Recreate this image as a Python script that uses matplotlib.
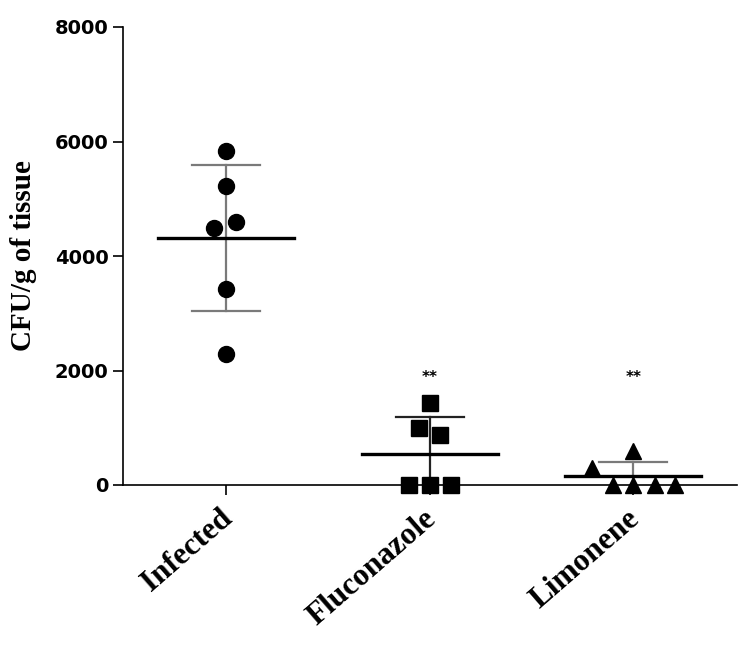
import numpy as np
import matplotlib
matplotlib.use("Agg")
import matplotlib.pyplot as plt
from matplotlib import transforms

# data (CFU/g of tissue)
groups = ["Infected", "Fluconazole", "Limonene"]
infected = [5834, 5223, 4594, 4489, 3424, 2288]
fluconazole = [1432, 996, 873, 0, 0, 0]
limonene = [600, 297, 0, 0, 0, 0]
stars = ["", "**", "**"]
y_ticks = [0, 2000, 4000, 6000, 8000]

# horizontal scatter of the points within each column
offsets = [
    [0, 0, 0.049, -0.059, 0, 0],
    [0, -0.05, 0.05, -0.103, 0, 0.103],
    [0, -0.2, -0.1, 0, 0.108, 0.206],
]
markers = ["o", "s", "^"]
msizes = [11.5, 11, 12]
sd_colors = ["#7a7a7a", "#222222", "#7a7a7a"]

fig = plt.figure(figsize=(7.53, 6.45), dpi=100)
ax = fig.add_axes([123 / 753, 160 / 645, 614 / 753, 458 / 645])

serif = "Liberation Serif"
values = [infected, fluconazole, limonene]
for i, vals in enumerate(values):
    vals = np.array(vals, dtype=float)
    m = vals.mean()
    sd = vals.std(ddof=1)
    # SD bar (the stem runs a little under the axis, caps below 0 are hidden)
    ax.plot([i, i], [m - sd, m + sd], color=sd_colors[i], lw=1.6, clip_on=False, zorder=2)
    for y in (m - sd, m + sd):
        ax.plot([i - 0.167, i + 0.167], [y, y], color=sd_colors[i], lw=1.6, zorder=2)
    # mean line
    ax.plot([i - 0.334, i + 0.334], [m, m], color="black", lw=2.4, zorder=3)
    # points
    xs = [i + o for o in offsets[i]]
    ax.plot(xs, vals, linestyle="none", marker=markers[i], ms=msizes[i],
            color="black", clip_on=False, zorder=4)
    if stars[i]:
        ax.text(i, 1880, stars[i], ha="center", va="center", fontsize=11, fontweight="bold")

ax.set_xlim(-0.506, 2.51)
ax.set_ylim(0, 8000)
ax.set_yticks(y_ticks)
ax.set_yticklabels([str(t) for t in y_ticks], fontsize=14, fontweight="bold", family="DejaVu Sans")
ax.set_xticks(range(len(groups)))
ax.set_xticklabels([])
for i, g in enumerate(groups):
    tr = ax.get_xaxis_transform() + transforms.ScaledTranslation(-7 / 100, -19 / 100, fig.dpi_scale_trans)
    ax.text(i, 0, g, transform=tr, rotation=41, rotation_mode="anchor", ha="right", va="top",
            fontsize=22.5, fontweight="bold", family=serif)

ax.set_ylabel("CFU/g of tissue", fontsize=21, fontweight="bold", family=serif, labelpad=13)

ax.spines["top"].set_visible(False)
ax.spines["right"].set_visible(False)
for s in ("left", "bottom"):
    ax.spines[s].set_linewidth(1.2)
ax.tick_params(axis="both", direction="out", length=7, width=1.2)

fig.savefig("out.png", dpi=100)
